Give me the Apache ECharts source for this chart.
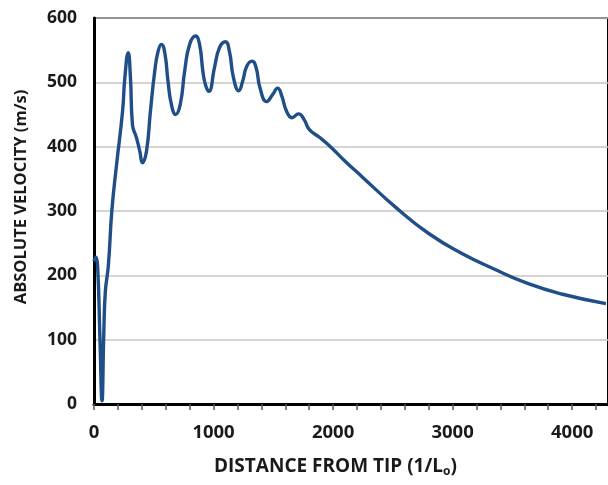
<!DOCTYPE html>
<html>
<head>
<meta charset="utf-8">
<script src="https://cdn.jsdelivr.net/npm/echarts@6/dist/echarts.min.js"></script>
<style>
  html, body { margin: 0; padding: 0; background: #fff; }
  #chart { width: 608px; height: 485px; }
</style>
</head>
<body>
<div id="chart"></div>
<script>
// Distance from tip (1/Lo) and absolute velocity (m/s)
const distance = [
  0, 15, 30, 50, 67, 82, 95, 120, 150, 190, 239, 258, 286, 305, 322, 355, 383,
  405, 439, 472, 508, 536, 564, 592, 619, 647, 683, 722, 758, 800, 850, 883,
  911, 933, 961, 1008, 1050, 1100, 1133, 1167, 1211, 1244, 1278, 1322, 1356,
  1389, 1444, 1494, 1536, 1572, 1611, 1656, 1711, 1758, 1800, 1883, 1967,
  2092, 2244, 2522, 2800, 3078, 3356, 3633, 3911, 4283
];
const velocity = [
  222, 228, 215, 100, 5, 110, 175, 215, 302, 374, 455, 507, 546, 507, 434, 414, 393,
  375, 393, 455, 517, 548, 559, 546, 502, 466, 450, 466, 517, 559, 572, 559,
  517, 496, 486, 523, 554, 563, 548, 507, 487, 502, 525, 533, 523,
  491, 470, 481, 491, 478, 455, 445, 451, 442, 427, 415, 402,
  379, 353, 306, 265, 234, 209, 187, 171, 156
];
const xTicks = [0, 1000, 2000, 3000, 4000];

const FONT = '"Open Sans", "Liberation Sans", sans-serif';
const chart = echarts.init(document.getElementById('chart'));

chart.setOption({
  animation: false,
  grid: {
    left: 94, top: 18, width: 516, height: 386,
    show: true, borderColor: '#000', borderWidth: 2, backgroundColor: 'transparent'
  },
  xAxis: {
    type: 'value',
    min: 0, max: 4300, interval: 200,
    axisLine: { lineStyle: { color: '#000', width: 3 } },
    axisTick: { show: true, length: 6, lineStyle: { color: '#555', width: 1.5 } },
    splitLine: { show: false },
    axisLabel: {
      margin: 19,
      fontFamily: FONT, fontWeight: 'bold', fontSize: 18.5, color: '#1a1a1a',
      showMaxLabel: false,
      formatter: v => (xTicks.indexOf(v) >= 0 ? String(v) : '')
    }
  },
  yAxis: {
    type: 'value',
    min: 0, max: 600, interval: 100,
    axisLine: { show: true, lineStyle: { color: '#000', width: 3 } },
    axisTick: { show: false },
    splitLine: { lineStyle: { color: '#c6c6c6', width: 1.5 } },
    axisLabel: {
      margin: 17,
      fontFamily: FONT, fontWeight: 'bold', fontSize: 17.5, color: '#1a1a1a'
    }
  },
  graphic: [
    {
      type: 'text', left: 214, top: 457,
      style: {
        text: 'DISTANCE FROM TIP (1/L{sub|o})',
        font: 'bold 19px ' + FONT, fill: '#1a1a1a',
        rich: { sub: { fontSize: 12, fontWeight: 'bold', fontFamily: FONT, padding: [11, 0, 0, 0], fill: '#1a1a1a' } }
      }
    },
    {
      type: 'text', x: 21, y: 197, rotation: Math.PI / 2,
      style: {
        text: 'ABSOLUTE VELOCITY (m/s)',
        font: 'bold 16.5px ' + FONT, fill: '#1a1a1a',
        align: 'center', verticalAlign: 'middle'
      }
    }
  ],
  series: [{
    type: 'line',
    data: distance.map((d, i) => [d, velocity[i]]),
    smooth: 0.5,
    showSymbol: false,
    clip: true,
    lineStyle: { color: '#1f4e89', width: 3.4 }
  }]
});
</script>
</body>
</html>
